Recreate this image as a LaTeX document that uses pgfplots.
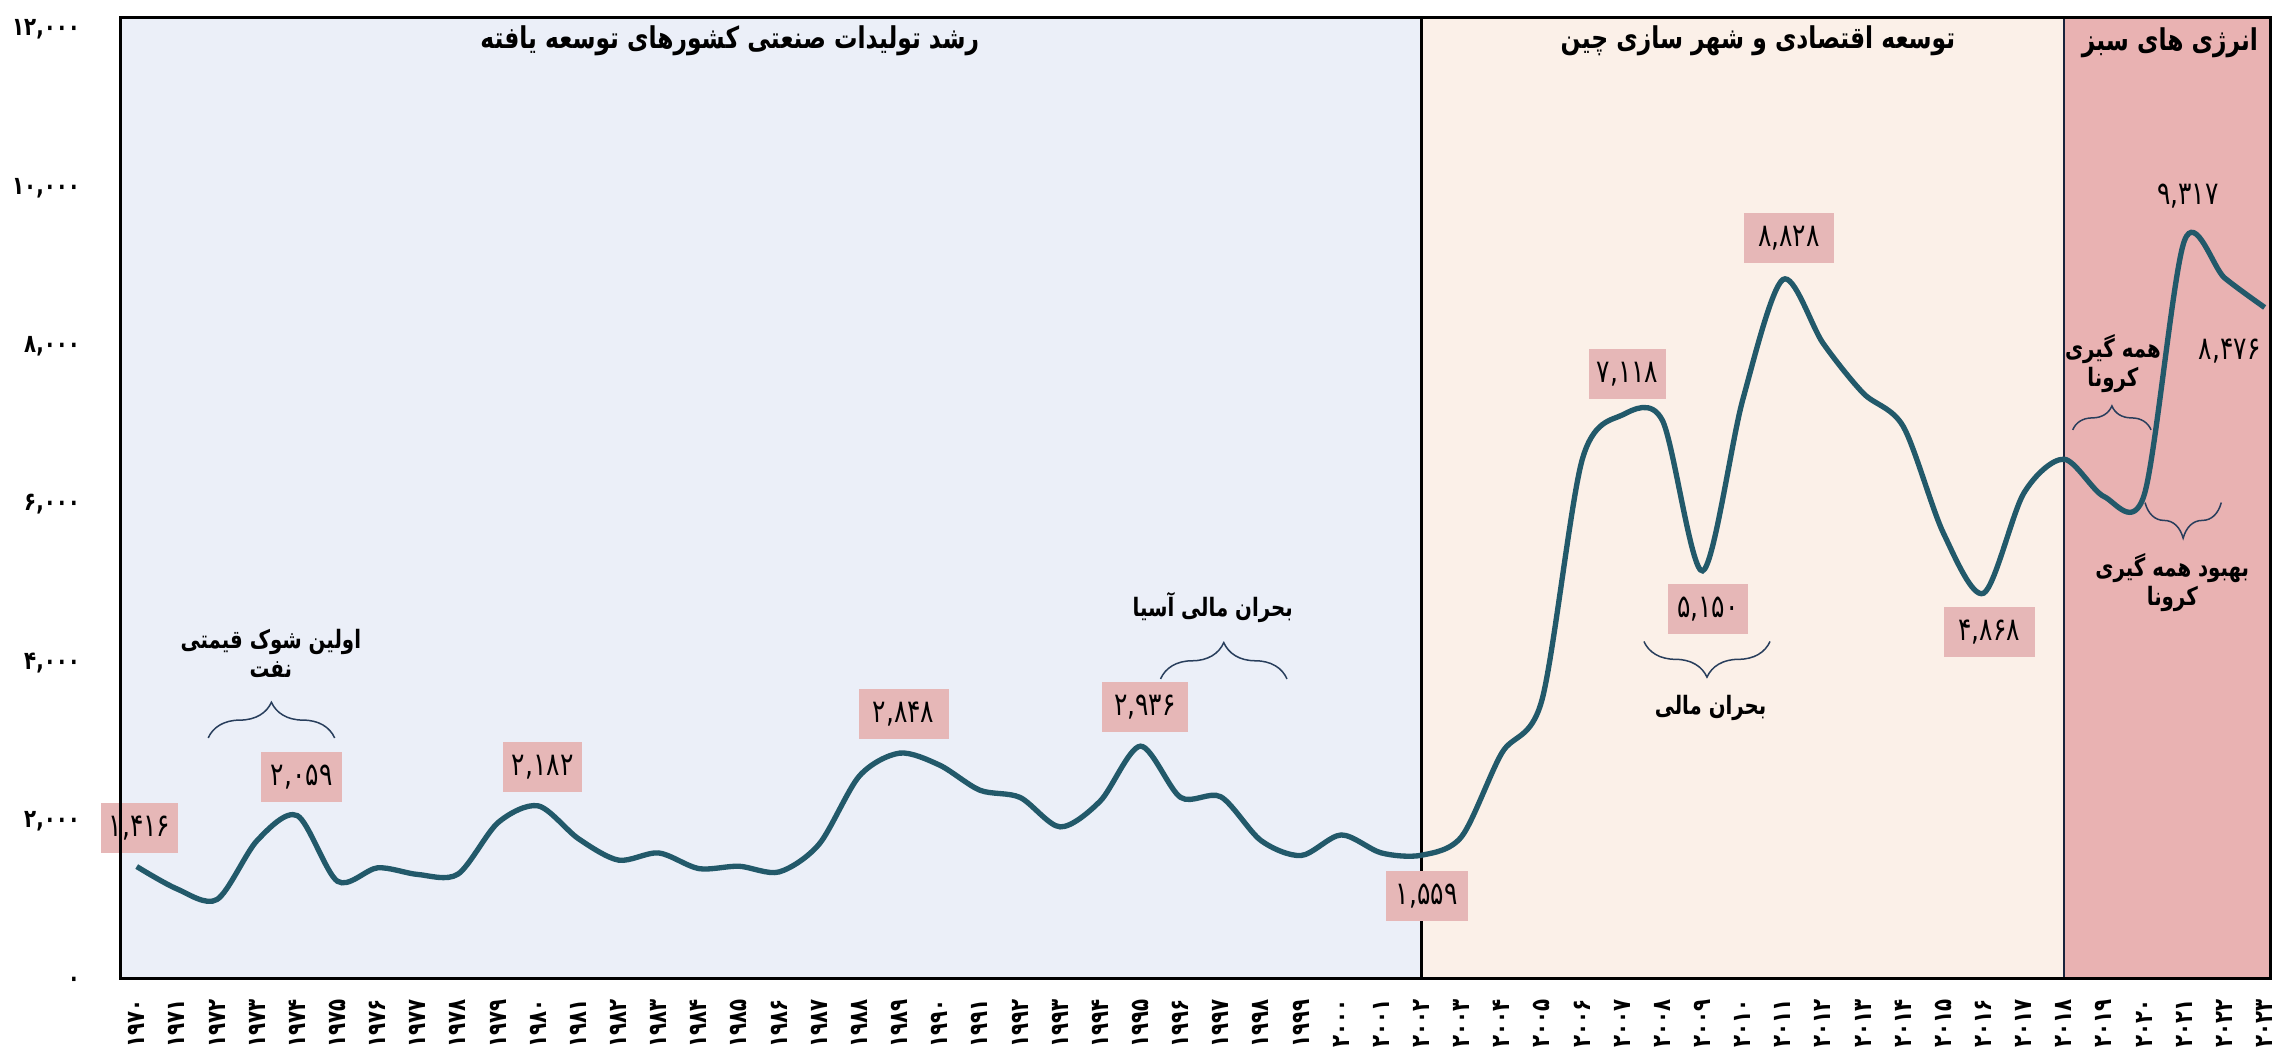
\documentclass[border=0pt]{standalone}
\usepackage{fontspec}
\usepackage{pgfplots}
\pgfplotsset{compat=1.18}
\usetikzlibrary{decorations.pathreplacing}
\TeXXeTstate=1
\setmainfont{DejaVu Sans}
\newfontfamily\fa[Script=Arabic, FakeStretch=0.78]{DejaVu Sans}
\definecolor{linec}{RGB}{34,89,106}
\definecolor{bgblue}{RGB}{235,239,248}
\definecolor{bgbeige}{RGB}{251,240,232}
\definecolor{bgpink}{RGB}{233,178,178}
\definecolor{boxpink}{RGB}{230,183,183}
\definecolor{bracec}{RGB}{40,62,92}
\definecolor{navy}{RGB}{25,35,60}
\pgfplotstableread{
year value
1970 1416
1971 1134
1972 1000
1973 1745
1974 2059
1975 1230
1976 1400
1977 1316
1978 1320
1979 1971
1980 2182
1981 1768
1982 1497
1983 1588
1984 1390
1985 1420
1986 1348
1987 1701
1988 2560
1989 2848
1990 2696
1991 2380
1992 2289
1993 1917
1994 2244
1995 2936
1996 2289
1997 2297
1998 1745
1999 1555
2000 1815
2001 1588
2002 1559
2003 1795
2004 2850
2005 3520
2006 6550
2007 7118
2008 7050
2009 5150
2010 7309
2011 8828
2012 8025
2013 7394
2014 6972
2015 5625
2016 4868
2017 6130
2018 6560
2019 6088
2020 6109
2021 9317
2022 8850
2023 8476
}\datatable
\tikzset{
  vbox/.style={fill=boxpink, inner sep=0pt, minimum height=15pt, font=\fa\fontsize{9.6}{10}\selectfont},
  ann/.style={font=\fa\bfseries\fontsize{7.6}{8.6}\selectfont, align=center, inner sep=0pt},
  ttl/.style={font=\fa\bfseries\fontsize{9}{10}\selectfont, inner sep=0pt},
  br/.style={draw=bracec, line width=0.45pt, decorate},
}
\begin{document}
\begin{tikzpicture}
\begin{axis}[name=ax, scale only axis, width=645pt, height=288.4pt,
  xmin=1969.6, xmax=2023.15, ymin=0, ymax=12140,
  clip=false,
  xtick={1970,...,2023},
  xticklabels={۱۹۷۰,۱۹۷۱,۱۹۷۲,۱۹۷۳,۱۹۷۴,۱۹۷۵,۱۹۷۶,۱۹۷۷,۱۹۷۸,۱۹۷۹,۱۹۸۰,۱۹۸۱,۱۹۸۲,۱۹۸۳,۱۹۸۴,۱۹۸۵,۱۹۸۶,۱۹۸۷,۱۹۸۸,۱۹۸۹,۱۹۹۰,۱۹۹۱,۱۹۹۲,۱۹۹۳,۱۹۹۴,۱۹۹۵,۱۹۹۶,۱۹۹۷,۱۹۹۸,۱۹۹۹,۲۰۰۰,۲۰۰۱,۲۰۰۲,۲۰۰۳,۲۰۰۴,۲۰۰۵,۲۰۰۶,۲۰۰۷,۲۰۰۸,۲۰۰۹,۲۰۱۰,۲۰۱۱,۲۰۱۲,۲۰۱۳,۲۰۱۴,۲۰۱۵,۲۰۱۶,۲۰۱۷,۲۰۱۸,۲۰۱۹,۲۰۲۰,۲۰۲۱,۲۰۲۲,۲۰۲۳},
  ytick={0,2000,4000,6000,8000,10000,12000},
  yticklabels={۰,{۲,۰۰۰},{۴,۰۰۰},{۶,۰۰۰},{۸,۰۰۰},{۱۰,۰۰۰},{۱۲,۰۰۰}},
  major tick length=0pt,
  axis on top,
  axis line style={line width=0.9pt, black},
  tick label style={font=\fa\bfseries\fontsize{7.6}{8}\selectfont},
  xticklabel style={rotate=90, anchor=east, inner sep=0pt},
  xticklabel shift=6pt,
  yticklabel style={anchor=east, inner sep=0pt, text height=4.4pt, text depth=0pt},
  yticklabel shift=12pt,
]
\fill[bgblue] (axis cs:1969.6,0) rectangle (axis cs:2002,12140);
\fill[bgbeige] (axis cs:2002,0) rectangle (axis cs:2018,12140);
\fill[bgpink] (axis cs:2018,0) rectangle (axis cs:2023.15,12140);
\draw[line width=0.8pt, black] (axis cs:2002,0) -- (axis cs:2002,12140);
\draw[line width=0.8pt, navy] (axis cs:2018,0) -- (axis cs:2018,12140);
\draw[line width=0.8pt, navy] (axis cs:2023.15,0) -- (axis cs:2023.15,12140);

\addplot[linec, line width=1.6pt, smooth, tension=0.5] table[x=year, y=value] {\datatable};

% region titles
\node[ttl] at (axis cs:1984.77,11840) {\beginR رشد تولیدات صنعتی کشورهای توسعه یافته\endR};
\node[ttl] at (axis cs:2010.38,11850) {\beginR توسعه اقتصادی و شهر سازی چین\endR};
\node[ttl] at (axis cs:2020.64,11820) {\beginR انرژی های سبز\endR};

% braces
\draw[br, decoration={brace, amplitude=10.7pt}] (axis cs:1971.78,3040) -- (axis cs:1974.93,3040);
\draw[br, decoration={brace, amplitude=10.9pt}] (axis cs:1995.5,3785) -- (axis cs:1998.65,3785);
\draw[br, decoration={brace, mirror, amplitude=10.7pt}] (axis cs:2007.54,4258) -- (axis cs:2010.68,4258);
\draw[br, decoration={brace, amplitude=7.2pt}] (axis cs:2018.22,6930) -- (axis cs:2020.17,6930);
\draw[br, decoration={brace, mirror, amplitude=10.7pt}] (axis cs:2020.02,6012) -- (axis cs:2021.92,6012);

% annotations
\node[ann] at (axis cs:1973.34,4108) {\beginR اولین شوک قیمتی\endR\\\beginR نفت\endR};
\node[ann] at (axis cs:1996.8,4688) {\beginR بحران مالی آسیا\endR};
\node[ann] at (axis cs:2009.2,3419) {\beginR بحران مالی\endR};
\node[ann] at (axis cs:2019.22,7770) {\beginR همه گیری\endR\\\beginR کرونا\endR};
\node[ann] at (axis cs:2020.7,5004) {\beginR بهبود همه گیری\endR\\\beginR کرونا\endR};

% value labels
\node[vbox, minimum width=23pt] at (axis cs:1970.07,1903) {۱,۴۱۶};
\node[vbox, minimum width=24.3pt] at (axis cs:1974.11,2548) {۲,۰۵۹};
\node[vbox, minimum width=23.9pt] at (axis cs:1980.11,2675) {۲,۱۸۲};
\node[vbox, minimum width=27pt] at (axis cs:1989.1,3343) {۲,۸۴۸};
\node[vbox, minimum width=25.9pt] at (axis cs:1995.11,3433) {۲,۹۳۶};
\node[vbox, minimum width=24.5pt] at (axis cs:2002.13,1045) {۱,۵۵۹};
\node[vbox, minimum width=23.3pt] at (axis cs:2007.13,7634) {۷,۱۱۸};
\node[vbox, minimum width=23.9pt] at (axis cs:2009.13,4663) {۵,۱۵۰};
\node[vbox, minimum width=27pt] at (axis cs:2011.15,9351) {۸,۸۲۸};
\node[vbox, minimum width=27.2pt] at (axis cs:2016.14,4372) {۴,۸۶۸};
\node[vbox, fill=none] at (axis cs:2021.09,9876) {۹,۳۱۷};
\node[vbox, fill=none] at (axis cs:2022.13,7920) {۸,۴۷۶};
\end{axis}
\pgfresetboundingbox
\path ([shift={(-36.2pt,-25pt)}]ax.south west) rectangle ([shift={(1.3pt,5.2pt)}]ax.north east);
\end{tikzpicture}
\end{document}
